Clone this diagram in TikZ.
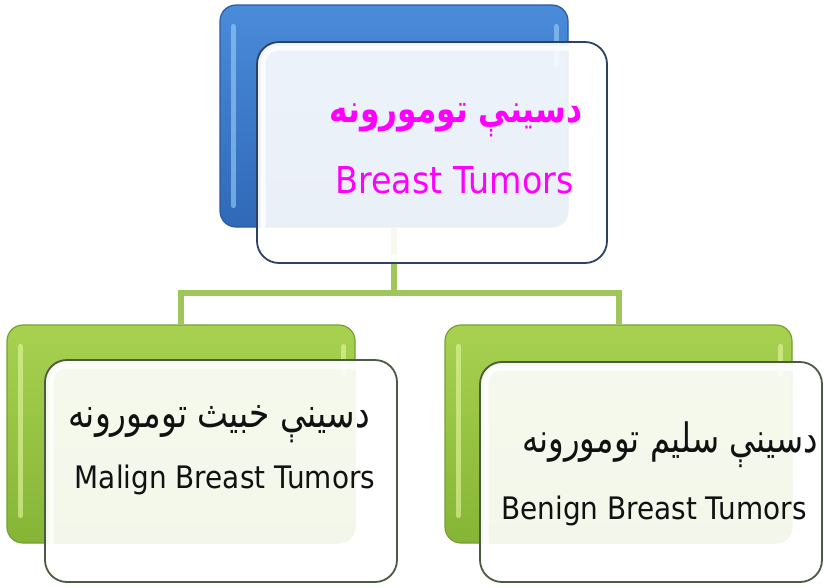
\documentclass[tikz,border=0pt]{standalone}
\usepackage{fontspec}
\setmainfont{DejaVu Sans}
\newfontfamily\latfont[FakeStretch=0.9]{DejaVu Sans}
\newfontfamily\arabicfont[Script=Arabic,FakeStretch=0.8]{DejaVu Sans}
\TeXXeTstate=1
\definecolor{blueTop}{HTML}{4A8BDA}
\definecolor{blueBot}{HTML}{2F69B8}
\definecolor{blueEdge}{HTML}{2A5B9E}
\definecolor{blueHi}{HTML}{9AD0FA}
\definecolor{greenTop}{HTML}{A8D150}
\definecolor{greenBot}{HTML}{86B536}
\definecolor{greenEdge}{HTML}{76A030}
\definecolor{greenHi}{HTML}{E4F8A0}
\definecolor{connGreen}{HTML}{9FC65A}
\definecolor{edgeTop}{HTML}{2E4260}
\definecolor{edgeBot}{HTML}{4B5A40}
\definecolor{pinkText}{HTML}{FF00FF}
\definecolor{darkText}{HTML}{111111}
\tikzset{
  backbox/.style={rectangle, rounded corners=16pt, line width=1.2pt, inner sep=0pt},
  backblue/.style={backbox, draw=blueEdge, top color=blueTop, bottom color=blueBot},
  backgreen/.style={backbox, draw=greenEdge, top color=greenTop, bottom color=greenBot},
  frontbox/.style={rectangle, rounded corners=22pt, line width=1.8pt, fill=white, fill opacity=0.9, text opacity=1, inner sep=0pt},
  conn/.style={draw=connGreen, line width=6pt},
  hi/.style={line width=5pt, line cap=round, opacity=0.6},
  bevel/.style={draw=white, line width=5pt, rounded corners=15pt, opacity=0.8},
  lat/.style={font=\latfont, anchor=base, inner sep=0pt},
  ar/.style={font=\arabicfont, anchor=base, inner sep=0pt}
}
\begin{document}
\begin{tikzpicture}[x=1pt,y=-1pt]
\useasboundingbox (0,0) rectangle (824,587);
% back boxes
\node[backblue, minimum width=348pt, minimum height=222pt] (tb) at (394,116) {};
\node[backgreen, minimum width=348pt, minimum height=218pt] (lb) at (181,434) {};
\node[backgreen, minimum width=347pt, minimum height=218pt] (rb) at (618.5,434) {};
% highlights on back boxes
\draw[hi, blueHi] ([shift={(14pt,-22pt)}]tb.north west) -- ([shift={(14pt,22pt)}]tb.south west);
\draw[hi, blueHi] ([shift={(-12pt,-22pt)}]tb.north east) -- ([shift={(-12pt,-60pt)}]tb.north east);
\draw[hi, greenHi] ([shift={(14pt,-22pt)}]lb.north west) -- ([shift={(14pt,28pt)}]lb.south west);
\draw[hi, greenHi] ([shift={(-12pt,-22pt)}]lb.north east) -- ([shift={(-12pt,-50pt)}]lb.north east);
\draw[hi, greenHi] ([shift={(14pt,-22pt)}]rb.north west) -- ([shift={(14pt,28pt)}]rb.south west);
\draw[hi, greenHi] ([shift={(-12pt,-22pt)}]rb.north east) -- ([shift={(-12pt,-50pt)}]rb.north east);
% connectors
\coordinate (j) at (394,293);
\draw[conn] (tb.south) -- (j);
\draw[conn] (lb.north) -- (lb.north |- j) -- (rb.north |- j) -- (rb.north);
% front boxes
\node[frontbox, draw=edgeTop, minimum width=350pt, minimum height=221pt] (tf) at (432,152.5) {};
\node[frontbox, draw=edgeBot, minimum width=352pt, minimum height=222pt] (lf) at (221,471) {};
\node[frontbox, draw=edgeBot, minimum width=342pt, minimum height=220pt] (rf) at (651,472) {};
\draw[bevel] ([shift={(7pt,-7pt)}]tf.north west) rectangle ([shift={(-7pt,7pt)}]tf.south east);
\draw[bevel] ([shift={(7pt,-7pt)}]lf.north west) rectangle ([shift={(-7pt,7pt)}]lf.south east);
\draw[bevel] ([shift={(7pt,-7pt)}]rf.north west) rectangle ([shift={(-7pt,7pt)}]rf.south east);
% texts
\node[ar, text=pinkText, font=\arabicfont\bfseries\fontsize{39}{44}\selectfont] (tar) at (456,122) {\beginR دسينې تومورونه\endR};
\node[lat, text=pinkText, font=\latfont\fontsize{37}{42}\selectfont] (ten) at (454.5,193) {Breast Tumors};
\node[ar, text=darkText, font=\arabicfont\fontsize{41}{46}\selectfont] (lar) at (219,427) {\beginR دسينې خبيث تومورونه\endR};
\node[lat, text=darkText, font=\latfont\fontsize{31}{36}\selectfont] (len) at (225,488) {Malign Breast Tumors};
\node[ar, text=darkText, font=\arabicfont\fontsize{40.5}{46}\selectfont] (rar) at (670,452) {\beginR دسينې سليم تومورونه\endR};
\node[lat, text=darkText, font=\latfont\fontsize{31}{36}\selectfont] (ren) at (654,519) {Benign Breast Tumors};
\end{tikzpicture}
\end{document}
